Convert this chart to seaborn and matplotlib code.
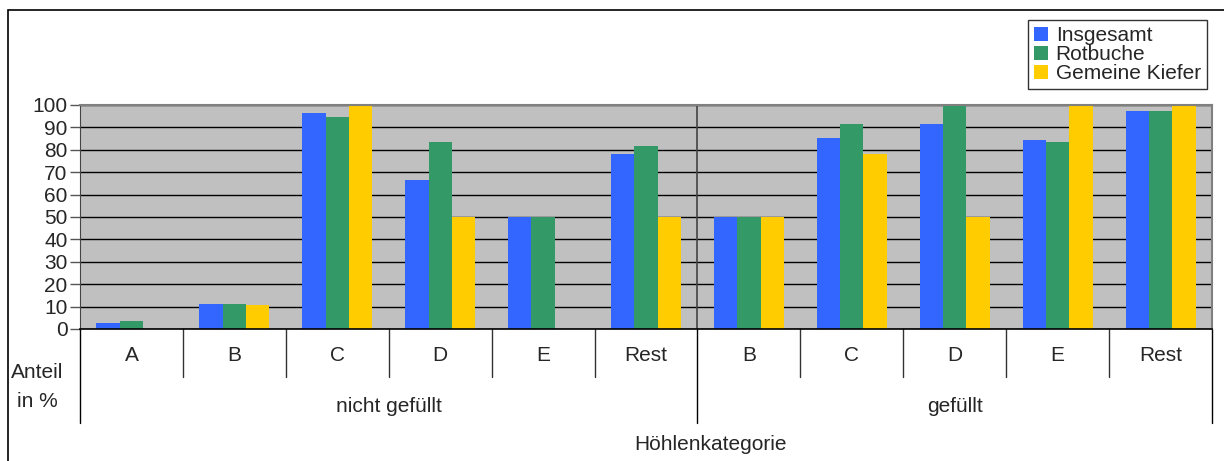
import matplotlib
matplotlib.use("Agg")
import matplotlib.pyplot as plt
import pandas as pd
import seaborn as sns
from matplotlib.patches import Rectangle

# Daten
gruppen = ["nicht gefüllt"] * 6 + ["gefüllt"] * 5
kategorien = ["A", "B", "C", "D", "E", "Rest", "B", "C", "D", "E", "Rest"]
insgesamt = [2.7, 11.2, 96.4, 66.5, 50, 78.1, 50, 85.3, 91.5, 84.4, 97.3]
rotbuche = [3.7, 11.2, 94.6, 83.5, 50, 81.7, 50, 91.5, 100, 83.5, 97.3]
kiefer = [0, 10.7, 100, 50, 0, 50, 50, 78.1, 50, 100, 100]
serien = ["Insgesamt", "Rotbuche", "Gemeine Kiefer"]
farben = ["#3366FF", "#339966", "#FFCC00"]

pos = [f"{g}|{k}" for g, k in zip(gruppen, kategorien)]
df = pd.DataFrame({"pos": pos * 3,
                   "wert": insgesamt + rotbuche + kiefer,
                   "serie": [s for s in serien for _ in pos]})

sns.set_style("white")
plt.rcParams["font.family"] = ["Liberation Sans", "DejaVu Sans"]

fig = plt.figure(figsize=(12.24, 4.61), dpi=100)
W, H = 1224, 461
ax = fig.add_axes([80 / W, 1 - 329 / H, (1212 - 80) / W, 224 / H])
ax.set_facecolor("#C0C0C0")

sns.barplot(data=df, x="pos", y="wert", hue="serie", order=pos, hue_order=serien,
            palette=farben, width=0.68, linewidth=0, saturation=1, ax=ax)

ax.set_ylim(0, 100)
ax.set_xlim(-0.5, len(pos) - 0.5)
ax.set_yticks(range(0, 101, 10))
ax.yaxis.grid(True, color="black", linewidth=1)
ax.set_axisbelow(True)
ax.tick_params(axis="y", labelsize=15, length=7, width=1, color="#555555", pad=2, left=True)
ax.set_xticks([])
ax.set_xlabel("")
ax.set_ylabel("")
for s in ["top", "right"]:
    ax.spines[s].set_color("#808080")
    ax.spines[s].set_linewidth(1.5)
ax.spines["left"].set_color("#444444")
ax.spines["bottom"].set_color("black")
ax.spines["bottom"].set_linewidth(1.2)

# Gruppentrenner im Plot
n1 = gruppen.count("nicht gefüllt")
ax.axvline(n1 - 0.5, color="#444444", linewidth=1.2)

# Achsenbeschriftung unten (zweistufig)
tr = ax.get_xaxis_transform()
for i, k in enumerate(kategorien):
    ax.text(i, -0.12, k, transform=tr, ha="center", va="center", fontsize=15)
for x in range(1, len(pos)):
    if x != n1:
        ax.plot([x - 0.5, x - 0.5], [0, -0.214], transform=tr, color="#333333",
                linewidth=1, clip_on=False)
for x in [-0.5, n1 - 0.5, len(pos) - 0.5]:
    ax.plot([x, x], [0, -0.42], transform=tr, color="black", linewidth=1, clip_on=False)
ax.text((n1 - 1) / 2, -0.345, "nicht gefüllt", transform=tr, ha="center", va="center", fontsize=15)
ax.text((n1 + len(pos) - 1) / 2, -0.345, "gefüllt", transform=tr, ha="center", va="center", fontsize=15)

fig.text(37 / W, 1 - 372 / H, "Anteil", ha="center", va="center", fontsize=15)
fig.text(37 / W, 1 - 401 / H, "in %", ha="center", va="center", fontsize=15)
fig.text(710 / W, 1 - 444 / H, "Höhlenkategorie", ha="center", va="center", fontsize=15)

# Legende
leg = ax.legend(loc="upper right", bbox_to_anchor=(1207 / W, 1 - 20 / H),
                bbox_transform=fig.transFigure, fontsize=15, frameon=True, fancybox=False,
                borderpad=0.3, labelspacing=0.0, handlelength=0.7, handleheight=0.7,
                handletextpad=0.35, borderaxespad=0)
leg.get_frame().set_edgecolor("black")
leg.get_frame().set_linewidth(1)

# Rahmen um das Diagramm
fig.patches.append(Rectangle((8 / W, -0.1), 1.2, 1 - 10 / H + 0.1, transform=fig.transFigure,
                             fill=False, edgecolor="black", linewidth=1.2, zorder=0))

fig.savefig("out.png", dpi=100)
